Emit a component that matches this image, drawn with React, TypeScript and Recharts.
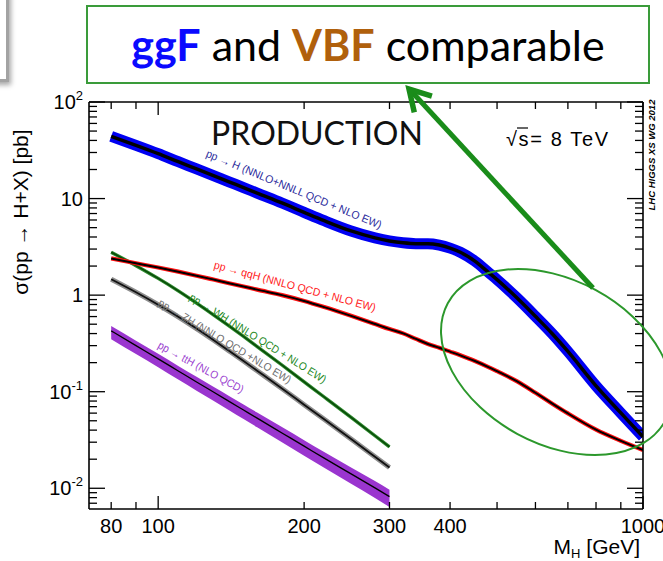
import React from "react";
import { ComposedChart, Line, Area, XAxis, YAxis } from "recharts";

const SANS = "'Liberation Sans', Arial, Helvetica, sans-serif";
const SLIDE = "Lato, 'Open Sans', sans-serif";

// Higgs mass points [GeV]
const masses = [80, 90, 100, 110, 120, 130, 140, 150, 160, 180, 200, 220, 250, 280, 300, 320, 340, 360, 380, 400, 420, 450, 480, 500, 550, 600, 650, 700, 800, 900, 1000];

// cross sections [pb], sqrt(s) = 8 TeV
const ggF = [44, 35.6, 29.2, 24.1, 20.3, 17.3, 14.9, 13.0, 11.4, 9.0, 7.2, 5.9, 4.62, 3.92, 3.64, 3.48, 3.41, 3.41, 3.3, 3.07, 2.78, 2.25, 1.72, 1.45, 0.933, 0.603, 0.398, 0.261, 0.115, 0.0603, 0.0341];
const vbf = [2.4, 2.14, 1.93, 1.75, 1.59, 1.45, 1.33, 1.23, 1.14, 1.0, 0.87, 0.752, 0.61, 0.502, 0.445, 0.402, 0.352, 0.312, 0.285, 0.26, 0.238, 0.208, 0.18, 0.163, 0.128, 0.0975, 0.0752, 0.0596, 0.0405, 0.031, 0.0249];
// associated production only up to 300 GeV
const wh = [2.78, 2.02, 1.49, 1.108, 0.828, 0.626, 0.48, 0.373, 0.2935, 0.189, 0.1266, 0.0881, 0.0541, 0.035, 0.0268];
const zh = [1.46, 1.07, 0.795, 0.597, 0.45, 0.343, 0.265, 0.208, 0.165, 0.108, 0.0734, 0.0518, 0.0323, 0.0212, 0.0164];
const tth = [0.427, 0.3, 0.219, 0.164, 0.126, 0.0993, 0.0795, 0.0646, 0.0532, 0.0374, 0.0273, 0.0205, 0.0141, 0.0101, 0.0082];
const tthHi = [0.478, 0.337, 0.247, 0.185, 0.143, 0.1127, 0.0905, 0.0737, 0.0609, 0.043, 0.0315, 0.0238, 0.01645, 0.01187, 0.00968];
const tthLo = [0.35, 0.245, 0.179, 0.1335, 0.1023, 0.0804, 0.0642, 0.0521, 0.0428, 0.0299, 0.02176, 0.01628, 0.01114, 0.00793, 0.0064];

const xTicks = [80, 90, 100, 200, 300, 400, 500, 600, 700, 800, 900, 1000];
const xMajor = [100, 1000];
const xLabels = [80, 100, 200, 300, 400, 1000];

const yMajor = [0.01, 0.1, 1, 10, 100];
const yMinorSteps = [2, 3, 4, 5, 6, 7, 8, 9];
const yTicks = [0.007, 0.008, 0.009, ...yMajor.flatMap((d) => (d < 100 ? [d, ...yMinorSteps.map((k) => +(d * k).toPrecision(3))] : [d]))];
const yLabels = [
  { v: 100, base: "10", sup: "2" },
  { v: 10, base: "10", sup: "" },
  { v: 1, base: "1", sup: "" },
  { v: 0.1, base: "10", sup: "-1" },
  { v: 0.01, base: "10", sup: "-2" },
];

const rows = masses.map((m, i) => ({
  m,
  ggF: ggF[i],
  vbf: vbf[i],
  wh: wh[i],
  zh: zh[i],
  tth: tth[i],
  tthBand: i < tth.length ? [tthLo[i], tthHi[i]] : undefined,
}));

const AXIS = { stroke: "#000", strokeWidth: 1.6 };

const BottomTick = (p: any) => {
  const v = p.payload.value;
  const len = xMajor.includes(v) ? 13 : 7;
  return (
    <g>
      <line x1={p.x} y1={p.y} x2={p.x} y2={p.y - len} stroke="#000" strokeWidth={1.3} />
      {xLabels.includes(v) && (
        <text x={p.x} y={p.y + 24} textAnchor="middle" fontSize={20} fontFamily={SANS} fill="#000">
          {v}
        </text>
      )}
    </g>
  );
};

const TopTick = (p: any) => {
  const len = xMajor.includes(p.payload.value) ? 13 : 7;
  return <line x1={p.x} y1={p.y} x2={p.x} y2={p.y + len} stroke="#000" strokeWidth={1.3} />;
};

const LeftTick = (p: any) => {
  const v = p.payload.value;
  const len = yMajor.includes(v) ? 16 : 8;
  const lab = yLabels.find((l) => l.v === v);
  return (
    <g>
      <line x1={p.x} y1={p.y} x2={p.x + len} y2={p.y} stroke="#000" strokeWidth={1.3} />
      {lab && (
        <text x={p.x - 6} y={p.y + 7} textAnchor="end" fontSize={20} fontFamily={SANS} fill="#000">
          {lab.base}
          {lab.sup && (
            <tspan dy={-9} fontSize={13}>
              {lab.sup}
            </tspan>
          )}
        </text>
      )}
    </g>
  );
};

const RightTick = (p: any) => {
  const len = yMajor.includes(p.payload.value) ? 16 : 8;
  return <line x1={p.x} y1={p.y} x2={p.x - len} y2={p.y} stroke="#000" strokeWidth={1.3} />;
};

const curveLabel = (text: string, x: number, y: number, angle: number, len: number, color: string) => (
  <text
    transform={`translate(${x},${y}) rotate(${angle})`}
    textAnchor="middle"
    dominantBaseline="central"
    fontSize={11}
    fontFamily={SANS}
    fill={color}
    textLength={len}
    lengthAdjust="spacingAndGlyphs"
  >
    {text}
  </text>
);

const line = (key: string, color: string, width: number) => (
  <Line
    key={key + color}
    xAxisId="b"
    yAxisId="l"
    dataKey={key}
    type="monotone"
    stroke={color}
    strokeWidth={width}
    dot={false}
    activeDot={false}
    isAnimationActive={false}
  />
);

export default function App() {
  return (
    <div style={{ position: "absolute", left: 0, top: 0, width: 663, height: 561, background: "#fff", overflow: "hidden" }}>
      {/* edge of the neighbouring slide box */}
      <div
        style={{
          position: "absolute",
          left: -30,
          top: -10,
          width: 39,
          height: 92,
          boxSizing: "border-box",
          border: "3px solid #a3a3a3",
          boxShadow: "2px 3px 5px rgba(0,0,0,0.35)",
          background: "#fff",
        }}
      />

      <ComposedChart width={663} height={561} data={rows} margin={{ top: 0, right: 0, bottom: 0, left: 0 }}>
        <XAxis
          xAxisId="b"
          dataKey="m"
          type="number"
          scale="log"
          domain={[72, 1000]}
          allowDataOverflow
          ticks={xTicks}
          interval={0}
          height={52}
          tickSize={0}
          tickMargin={0}
          tickLine={false}
          axisLine={AXIS}
          tick={BottomTick}
        />
        <XAxis
          xAxisId="t"
          orientation="top"
          dataKey="m"
          type="number"
          scale="log"
          domain={[72, 1000]}
          allowDataOverflow
          ticks={xTicks}
          interval={0}
          height={102}
          tickSize={0}
          tickMargin={0}
          tickLine={false}
          axisLine={AXIS}
          tick={TopTick}
        />
        <YAxis
          yAxisId="l"
          type="number"
          scale="log"
          domain={[0.0061, 100]}
          allowDataOverflow
          ticks={yTicks}
          interval={0}
          width={89}
          tickSize={0}
          tickMargin={0}
          tickLine={false}
          axisLine={AXIS}
          tick={LeftTick}
        />
        <YAxis
          yAxisId="r"
          orientation="right"
          type="number"
          scale="log"
          domain={[0.0061, 100]}
          allowDataOverflow
          ticks={yTicks}
          interval={0}
          width={20}
          tickSize={0}
          tickMargin={0}
          tickLine={false}
          axisLine={AXIS}
          tick={RightTick}
        />

        <Area
          xAxisId="b"
          yAxisId="l"
          dataKey="tthBand"
          type="monotone"
          stroke="none"
          fill="#9a35cf"
          fillOpacity={1}
          activeDot={false}
          isAnimationActive={false}
        />
        {line("tth", "#000", 1.3)}
        {line("zh", "#8e8e8e", 5)}
        {line("zh", "#111", 1.8)}
        {line("wh", "#2e8b2e", 3.4)}
        {line("wh", "#084a08", 1.5)}
        {line("ggF", "#0000f2", 11)}
        {line("ggF", "#000", 3.5)}
        {line("vbf", "#ff1010", 4.2)}
        {line("vbf", "#000", 2)}
      </ComposedChart>

      <svg width={663} height={561} style={{ position: "absolute", left: 0, top: 0, pointerEvents: "none" }}>
        {curveLabel("pp \u2192 H (NNLO+NNLL QCD + NLO EW)", 294, 189, 22.5, 189, "#2b2b9c")}
        {curveLabel("pp \u2192 qqH (NNLO QCD + NLO EW)", 295, 286, 15, 167, "#ff1a1a")}
        {curveLabel("pp \u2192 WH (NNLO QCD + NLO EW)", 258, 338, 32, 159, "#1f8a1f")}
        {curveLabel("pp \u2192 ZH (NNLO QCD +NLO EW)", 225, 341, 31, 153, "#6e6e6e")}
        {curveLabel("pp \u2192 ttH (NLO QCD)", 201, 367, 28.5, 96, "#9b3fd0")}

        <text x={317} y={145} textAnchor="middle" fontSize={32} fontFamily={SLIDE} fill="#111">
          PRODUCTION
        </text>

        <text x={506} y={146} fontSize={20} fontFamily={SANS} fill="#000" textLength={102} lengthAdjust="spacing">
          {"\u221As= 8 TeV"}
        </text>
        <line x1={517} y1={128} x2={528} y2={128} stroke="#000" strokeWidth={1.2} />

        <text
          transform="translate(655,155) rotate(-90)"
          textAnchor="middle"
          fontSize={9.5}
          fontWeight="bold"
          fontStyle="italic"
          fontFamily={SANS}
          fill="#000"
        >
          LHC HIGGS XS WG 2012
        </text>

        <text transform="translate(28,212) rotate(-90)" textAnchor="middle" fontSize={21} fontFamily={SANS} fill="#000">
          {"\u03C3(pp \u2192 H+X) [pb]"}
        </text>
        <text x={640} y={554} textAnchor="end" fontSize={21} fontFamily={SANS} fill="#000">
          M
          <tspan dy={4} fontSize={13}>
            H
          </tspan>
          <tspan dy={-4}> [GeV]</tspan>
        </text>

        {/* highlight of the high-mass region */}
        <ellipse cx={556.5} cy={362} rx={123.6} ry={81.9} transform="rotate(28.4 556.5 362)" fill="none" stroke="#2c982c" strokeWidth={2} />
        <line x1={593} y1={288} x2={412} y2={92} stroke="#1a8c1a" strokeWidth={5} />
        <polyline points="414.3,112.4 409,89 431.9,96.1" fill="none" stroke="#1a8c1a" strokeWidth={5.5} strokeLinejoin="miter" />
      </svg>

      <div
        style={{
          position: "absolute",
          left: 86,
          top: 5,
          width: 564,
          height: 79,
          boxSizing: "border-box",
          border: "2px solid #3a9b3a",
          background: "#fff",
          display: "flex",
          alignItems: "center",
          justifyContent: "center",
          fontFamily: SLIDE,
          fontSize: 43,
          color: "#000",
          whiteSpace: "pre",
        }}
      >
        <span style={{ color: "#0a0aff", fontWeight: 700 }}>ggF</span>
        <span> and </span>
        <span style={{ color: "#b0600c", fontWeight: 700 }}>VBF</span>
        <span> comparable</span>
      </div>
    </div>
  );
}
